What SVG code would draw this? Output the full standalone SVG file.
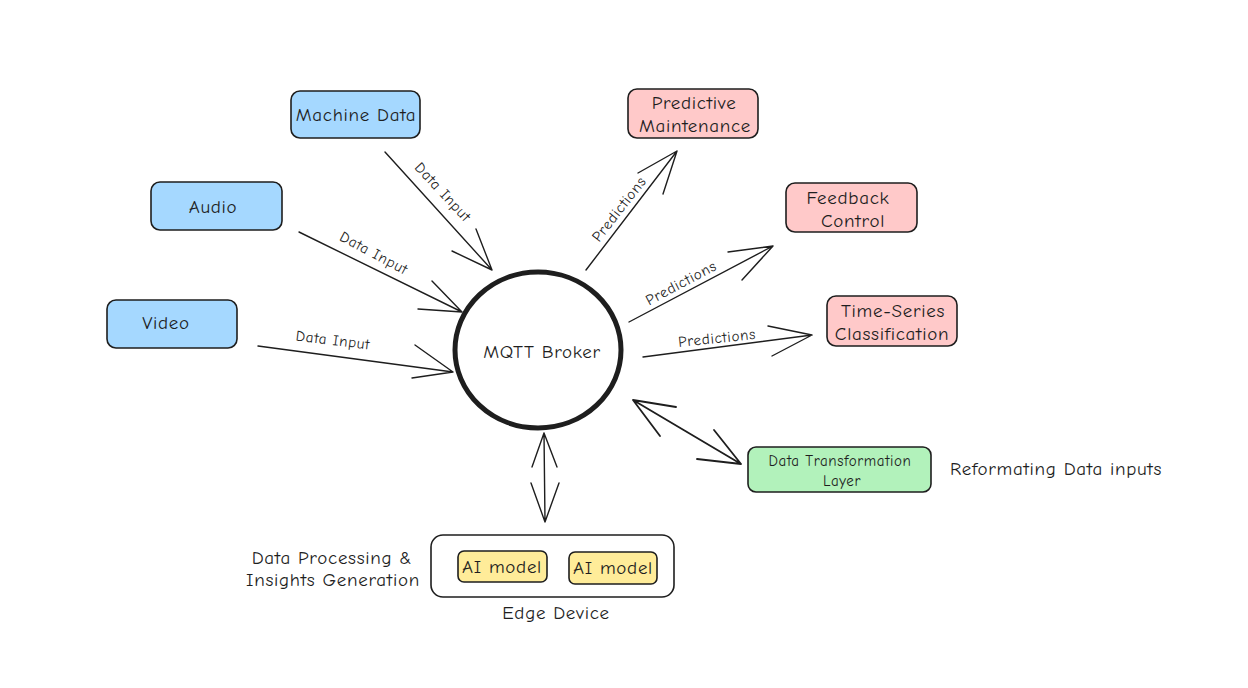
<svg xmlns="http://www.w3.org/2000/svg" width="1248" height="688" viewBox="0 0 1248 688">
<style>
.box{stroke:#1e1e1e;stroke-width:1.6;}
.blue{fill:#a5d8ff;}
.red{fill:#ffc9c9;}
.green{fill:#b2f2bb;}
.yellow{fill:#ffec99;}
.white{fill:#ffffff;}
.t{font-family:"Comic Neue","Liberation Sans",sans-serif;fill:#1e1e1e;text-anchor:middle;dominant-baseline:central;}
.n{font-size:19px;letter-spacing:0.7px;}
.s{font-size:15px;letter-spacing:0.6px;}
.l{font-size:15px;letter-spacing:0.7px;}
.ln{stroke:#1e1e1e;stroke-width:1.4;fill:none;stroke-linecap:round;}
</style>
<rect width="1248" height="688" fill="#ffffff"/>

<g id="connectors">
  <!-- Machine Data -> Broker -->
  <path class="ln" d="M385,152 L492,270 M452,251 L492,270 M476,229 L492,270"/>
  <text class="t l" transform="translate(443,192) rotate(47)">Data Input</text>
  <!-- Audio -> Broker -->
  <path class="ln" d="M299,232 L462,312 M432,281 L462,312 M418,309 L462,312"/>
  <text class="t l" transform="translate(374,253) rotate(28)">Data Input</text>
  <!-- Video -> Broker -->
  <path class="ln" d="M258,346 L453,372 M415,345 L453,372 M412,378 L453,372"/>
  <text class="t l" transform="translate(333,340) rotate(7)">Data Input</text>
  <!-- Broker -> Predictive -->
  <path class="ln" d="M586,270 L677,151 M638,173 L677,151 M663,194 L677,151"/>
  <text class="t l" transform="translate(619,209) rotate(-52)">Predictions</text>
  <!-- Broker -> Feedback -->
  <path class="ln" d="M629,322 L773,246 M728,252 L773,246 M742,280 L773,246"/>
  <text class="t l" transform="translate(681,283) rotate(-28)">Predictions</text>
  <!-- Broker -> Time-Series -->
  <path class="ln" d="M643,357 L812,335 M768,326 L812,335 M772,356 L812,335"/>
  <text class="t l" transform="translate(717,338) rotate(-6)">Predictions</text>
  <!-- Broker <-> Data Transformation -->
  <path class="ln" style="stroke-width:1.8" d="M633,400 L741,464 M676,407 L633,400 M660,436 L633,400 M714,430 L741,464 M697,459 L741,464"/>
  <!-- Broker <-> Edge -->
  <path class="ln" d="M544,433 L545,522 M532,467 L544,433 M557,467 L544,433 M531,483 L545,522 M559,483 L545,522"/>
</g>

<g id="machine-data">
  <rect class="box blue" x="291" y="91" width="129" height="47" rx="9"/>
  <text class="t n" x="356" y="115">Machine Data</text>
</g>
<g id="audio">
  <rect class="box blue" x="151" y="182" width="131" height="48" rx="9"/>
  <text class="t n" x="213" y="207">Audio</text>
</g>
<g id="video">
  <rect class="box blue" x="107" y="300" width="130" height="48" rx="9"/>
  <text class="t n" x="166" y="323">Video</text>
</g>

<g id="predictive-maintenance">
  <rect class="box red" x="628" y="89" width="130" height="49" rx="9"/>
  <text class="t n" x="694" y="103">Predictive</text>
  <text class="t n" x="695" y="126">Maintenance</text>
</g>
<g id="feedback-control">
  <rect class="box red" x="786" y="183" width="131" height="49" rx="9"/>
  <text class="t n" x="848" y="198">Feedback</text>
  <text class="t n" x="853" y="221">Control</text>
</g>
<g id="time-series-classification">
  <rect class="box red" x="827" y="296" width="130" height="50" rx="9"/>
  <text class="t n" x="893" y="311">Time-Series</text>
  <text class="t n" x="892" y="334">Classification</text>
</g>

<g id="mqtt-broker">
  <ellipse cx="538" cy="350" rx="83" ry="78" fill="#ffffff" stroke="#1e1e1e" stroke-width="5"/>
  <text class="t n" x="542" y="352">MQTT Broker</text>
</g>

<g id="data-transformation-layer">
  <rect class="box green" x="748" y="447" width="183" height="45" rx="8"/>
  <text class="t s" x="840" y="461">Data Transformation</text>
  <text class="t s" x="842" y="481">Layer</text>
</g>
<g id="reformating-label">
  <text class="t n" x="1056" y="469">Reformating Data inputs</text>
</g>

<g id="edge-device">
  <rect class="box white" x="431" y="535" width="243" height="62" rx="12"/>
  <text class="t n" x="556" y="613">Edge Device</text>
</g>
<g id="ai-model-1">
  <rect class="box yellow" x="458" y="551" width="89" height="31" rx="6"/>
  <text class="t n" x="502" y="567">AI model</text>
</g>
<g id="ai-model-2">
  <rect class="box yellow" x="569" y="552" width="88" height="32" rx="6"/>
  <text class="t n" x="613" y="568">AI model</text>
</g>
<g id="processing-label">
  <text class="t n" x="332" y="558">Data Processing &amp;</text>
  <text class="t n" x="333" y="580">Insights Generation</text>
</g>
</svg>
